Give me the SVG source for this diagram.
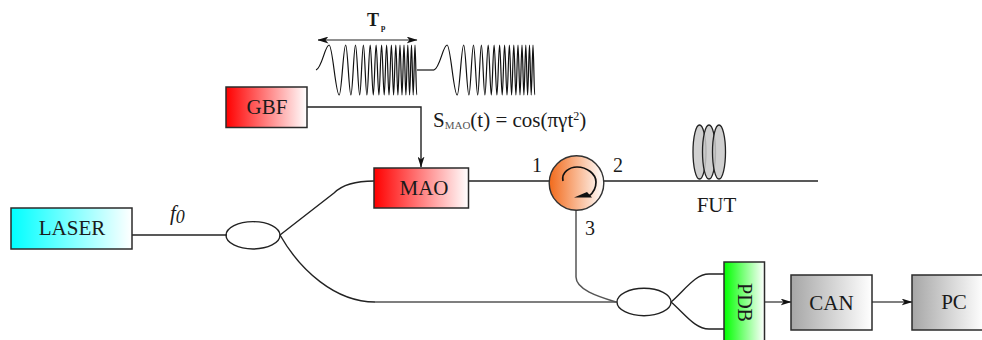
<svg xmlns="http://www.w3.org/2000/svg" width="982" height="340" viewBox="0 0 982 340">
<defs>
<linearGradient id="gc"><stop offset="0" stop-color="#00ffff"/><stop offset="1" stop-color="#fff"/></linearGradient>
<linearGradient id="gr"><stop offset="0" stop-color="#ff0000"/><stop offset="1" stop-color="#fff"/></linearGradient>
<linearGradient id="gg"><stop offset="0" stop-color="#00ff00"/><stop offset="1" stop-color="#fff"/></linearGradient>
<linearGradient id="gy"><stop offset="0" stop-color="#a6a6a6"/><stop offset="1" stop-color="#fff"/></linearGradient>
<linearGradient id="go"><stop offset="0" stop-color="#f26a1b"/><stop offset="1" stop-color="#fff"/></linearGradient>
<marker id="ah" viewBox="0 0 11 7" refX="10.500" refY="3.500" markerWidth="11" markerHeight="7" markerUnits="userSpaceOnUse" orient="auto-start-reverse"><path d="M0 0L11 3.500L0 7L3 3.500Z" fill="#111"/></marker>
<path id="chirp" d="M316 70C322 68 325 45 329.100 45c3.500 0 6.500 50 10.100 50c2.400 0 4.100-50 6.500-50c1.900 0 3.300 50 5.200 50c1.700 0 2.900-50 4.600-50c1.500 0 2.700 50 4.200 50c1.300 0 2.400-50 3.700-50c1.300 0 2.200 50 3.500 50c1.200 0 2.100-50 3.300-50c1.100 0 2 50 3.100 50c1 0 1.800-50 2.800-50c1 0 1.800 50 2.800 50c1 0 1.700-50 2.700-50c.9 0 1.700 50 2.600 50c.9 0 1.500-50 2.400-50c.9 0 1.500 50 2.400 50c.9 0 1.500-50 2.400-50c.8 0 1.400 50 2.200 50c.8 0 1.400-50 2.200-50c.8 0 1.300 50 2.100 50c.8 0 1.300-50 2.100-50c.7 0 1.300 50 2 50c.7 0 1.300-50 2-50c.7 0 1.200 50 1.900 50c.7 0 1.200-50 1.900-50c.7 0 1.100 50 1.800 50c.7 0 1.200-50 1.900-50c.6 0 1.100 50 1.700 50c.6 0 1.200-50 1.800-50c.6 0 1.100 50 1.700 50"/>
</defs>
<style>
text{font-family:"Liberation Serif","Times New Roman",serif;fill:#1a1a1a}
.t{font-size:21px;text-anchor:middle}
.box{stroke:#2b2b2b;stroke-width:1.500}
.ln{fill:none;stroke:#222;stroke-width:1.400}
.gl{fill:none;stroke:#555;stroke-width:1.500}
.wave{fill:none;stroke:#111;stroke-width:1.200}
.fib{fill:#c8c8c8;fill-opacity:.85;stroke:#222;stroke-width:1.300}
</style>
<g id="connectors">
<path class="ln" d="M132 235H227"/>
<path class="ln" d="M280 235L334 193C343 184 358 181 374 181"/>
<path class="ln" d="M280 235C300 270 335 302 375 302"/>
<path class="gl" d="M375 302H617"/>
<path class="ln" d="M468 181H550"/>
<path class="ln" d="M604 181H818"/>
<path class="gl" d="M576 210V277C576 290 600 297 616 302"/>
<path class="ln" d="M671 302C685 290 695 274 709 274H724"/>
<path class="ln" d="M671 302C685 314 695 329 709 329H724"/>
<path class="ln" d="M307 107H421V167" marker-end="url(#ah)"/>
<path class="gl" d="M764 302H791" marker-end="url(#ah)"/>
<path class="gl" d="M872 302H912" marker-end="url(#ah)"/>
</g>
<g id="chirp-signal">
<use href="#chirp" class="wave"/>
<use href="#chirp" class="wave" x="118"/>
<path class="wave" d="M417 70H434"/>
<path d="M318 40H417" fill="none" stroke="#222" stroke-width="1.200" marker-start="url(#ah)" marker-end="url(#ah)"/>
<text x="367" y="26" font-size="18" font-weight="bold">T</text>
<text x="381" y="30" font-size="8" font-weight="bold">p</text>
</g>
<g id="laser"><rect class="box" x="11" y="208" width="121" height="41" fill="url(#gc)"/><text class="t" x="72" y="235">LASER</text></g>
<g id="gbf"><rect class="box" x="226" y="87" width="81" height="40.500" fill="url(#gr)"/><text class="t" x="267" y="114">GBF</text></g>
<g id="mao"><rect class="box" x="374" y="168" width="94.500" height="40" fill="url(#gr)"/><text class="t" x="424" y="195">MAO</text></g>
<g id="coupler-1"><ellipse class="ln" cx="253" cy="235.300" rx="27" ry="13.700" fill="#fff"/></g>
<g id="coupler-2"><ellipse class="ln" cx="644" cy="302" rx="27" ry="13.700" fill="#fff"/></g>
<g id="circulator">
<circle cx="576.500" cy="183" r="27.300" fill="url(#go)" stroke="#333" stroke-width="1.400"/>
<path d="M563 181C561 172 570 167 577 167C587 167 596 174 596 182C596 188 593 193 589 196" fill="none" stroke="#111" stroke-width="1.700"/>
<path d="M574 197.500L587 192L592 197.500Z" fill="#111"/>
<text x="532" y="172" font-size="20">1</text>
<text x="613" y="172" font-size="20">2</text>
<text x="585" y="235" font-size="20">3</text>
</g>
<g id="fut">
<ellipse class="fib" cx="699.500" cy="152" rx="6.500" ry="27"/>
<ellipse class="fib" cx="709" cy="152" rx="6.500" ry="27"/>
<ellipse class="fib" cx="719" cy="152" rx="6.500" ry="27"/>
<text class="t" x="716.500" y="212" font-size="20">FUT</text>
</g>
<g id="pdb"><rect class="box" x="724" y="262" width="40.500" height="82" fill="url(#gg)"/><text class="t" font-size="20" style="font-size:20px" transform="translate(738 302.500) rotate(90)">PDB</text></g>
<g id="can"><rect class="box" x="791" y="275" width="81" height="55" fill="url(#gy)"/><text class="t" x="831.500" y="310">CAN</text></g>
<g id="pc"><rect class="box" x="912" y="275" width="72" height="55" fill="url(#gy)"/><text class="t" x="954" y="309">PC</text></g>
<g id="labels">
<text x="170" y="220" font-size="21" font-style="italic">f<tspan font-size="18" dy="2.500">0</tspan></text>
<text x="433" y="127" font-size="21">S<tspan font-size="11" fill="#555" dy="2">MAO</tspan><tspan dy="-2">(t) = cos(πγt</tspan><tspan font-size="12" dy="-7">2</tspan><tspan dy="7">)</tspan></text>
</g>
</svg>
